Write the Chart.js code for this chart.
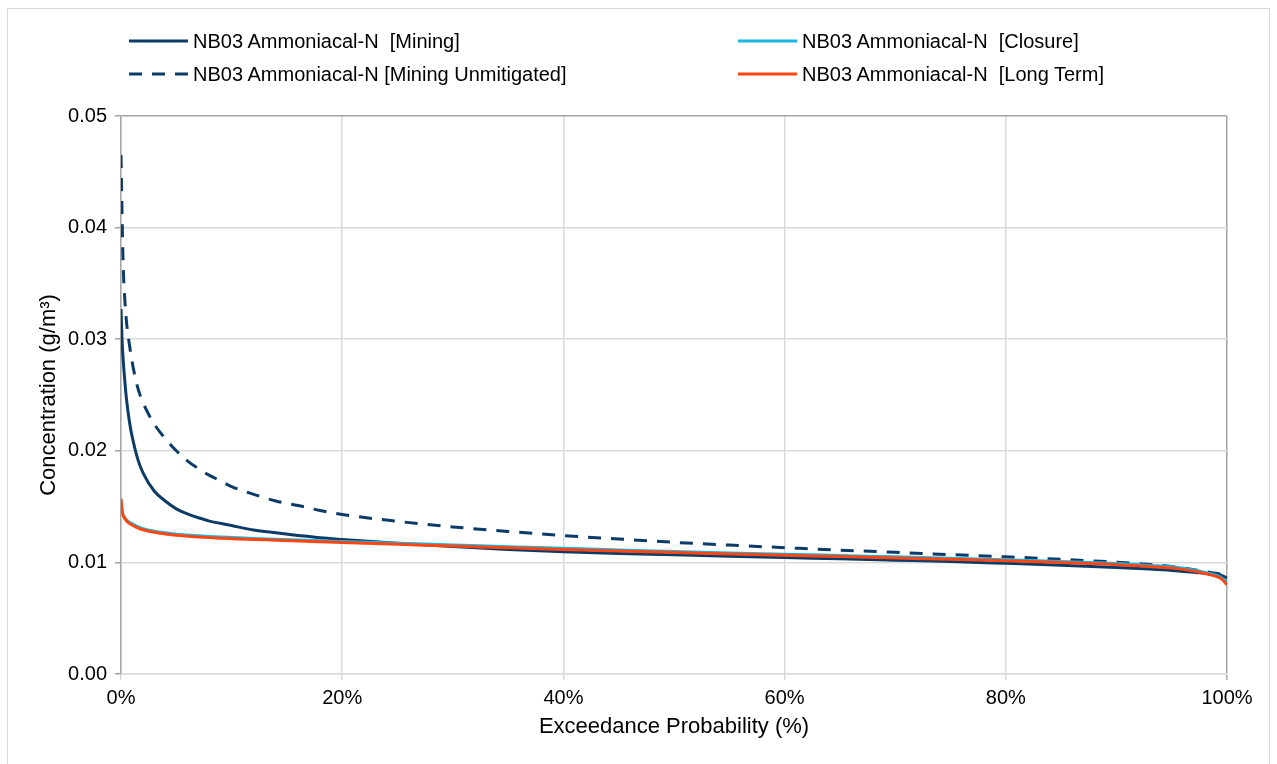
<!DOCTYPE html>
<html>
<head>
<meta charset="utf-8">
<script src="https://cdn.jsdelivr.net/npm/chart.js@4.4.1/dist/chart.umd.min.js"></script>
<style>
  html, body { margin: 0; padding: 0; background: #fff; }
  body { width: 1277px; height: 764px; position: relative; overflow: hidden; font-family: "Liberation Sans", Arial, sans-serif; }
  #frame { position: absolute; left: 7px; top: 8px; width: 1263px; height: 780px; border: 1px solid #d9d9d9; box-sizing: border-box; }
  #chartBox { position: absolute; left: 0; top: 0; }
  .leg { position: absolute; font-size: 20px; line-height: 24px; color: #000; white-space: pre; display: flex; align-items: center; }
  .leg svg { margin-right: 5px; }
</style>
</head>
<body>
<div id="frame"></div>
<canvas id="chartBox" width="1277" height="764"></canvas>
<div id="legend"></div>
<script>
// exceedance probability (%) shared by all series
const probPct = [0, 0.1, 0.2, 0.35, 0.5, 0.75, 1, 1.5, 2, 3, 4, 5, 6, 7, 8, 9, 10, 12, 14, 16, 18, 20,
  25, 30, 35, 40, 45, 50, 55, 60, 65, 70, 75, 80, 85, 90, 93, 95, 97, 98, 99, 99.5, 100];

// concentrations (g/m3)
const concMining = [0.0327, 0.0298, 0.0281, 0.0262, 0.0246, 0.0227, 0.0213, 0.0193, 0.0180, 0.0164, 0.0155,
  0.0148, 0.01435, 0.0140, 0.0137, 0.0135, 0.0133, 0.0129, 0.01265, 0.01242, 0.0122, 0.01205,
  0.01172, 0.01142, 0.01115, 0.01095, 0.0108, 0.01068, 0.01055, 0.01043, 0.01032, 0.0102, 0.01008, 0.00992,
  0.00975, 0.00955, 0.0094, 0.00928, 0.00912, 0.00903, 0.00893, 0.00883, 0.0086];

const concUnmitigated = [0.0465, 0.0410, 0.0365, 0.0335, 0.0315, 0.0296, 0.0280, 0.0257, 0.0243, 0.0224, 0.0211,
  0.0200, 0.0191, 0.0184, 0.0178, 0.0173, 0.0168, 0.0161, 0.0155, 0.0151, 0.01465, 0.0143,
  0.01368, 0.01318, 0.01277, 0.0124, 0.0121, 0.0118, 0.01155, 0.01132, 0.0111, 0.0109, 0.0107, 0.0105,
  0.01028, 0.01002, 0.00982, 0.00963, 0.00935, 0.00918, 0.00902, 0.0089, 0.0087];

const concClosure = [0.0155, 0.0146, 0.01425, 0.0140, 0.01382, 0.0136, 0.01345, 0.0132, 0.01302, 0.0128, 0.01265,
  0.01253, 0.01245, 0.01238, 0.01232, 0.01227, 0.01223, 0.01215, 0.01208, 0.01201, 0.01194, 0.01188,
  0.01172, 0.01157, 0.01141, 0.01126, 0.01112, 0.01098, 0.01085, 0.01073, 0.01062, 0.0105, 0.01038, 0.01024,
  0.01008, 0.0099, 0.00973, 0.0096, 0.00933, 0.0091, 0.00885, 0.00862, 0.0082];

const concLongTerm = [0.0157, 0.0146, 0.0142, 0.01392, 0.01372, 0.0135, 0.01335, 0.0131, 0.01292, 0.0127, 0.01255,
  0.01243, 0.01235, 0.01228, 0.01222, 0.01217, 0.01213, 0.01206, 0.01199, 0.01192, 0.01185, 0.01178,
  0.01162, 0.01147, 0.01131, 0.01116, 0.01102, 0.01088, 0.01075, 0.01063, 0.01052, 0.0104, 0.01028, 0.01014,
  0.00998, 0.0098, 0.00963, 0.0095, 0.00922, 0.009, 0.00875, 0.00852, 0.0080];

const xTicks = [0, 20, 40, 60, 80, 100];
const yTicks = [0, 0.01, 0.02, 0.03, 0.04, 0.05];

// colours
const COL_NAVY   = "#0b3b66";
const COL_CYAN   = "#19b6e3";
const COL_ORANGE = "#ff4512";
const GRID_LIGHT = "#d9d9d9";
const GRID_DARK  = "#a6a6a6";
const DASH = [13, 10];

const series = [
  { label: "NB03 Ammoniacal-N  [Mining]", data: concMining, color: COL_NAVY, dash: [], order: 4 },
  { label: "NB03 Ammoniacal-N [Mining Unmitigated]", data: concUnmitigated, color: COL_NAVY, dash: DASH, order: 3 },
  { label: "NB03 Ammoniacal-N  [Closure]", data: concClosure, color: COL_CYAN, dash: [], order: 2 },
  { label: "NB03 Ammoniacal-N  [Long Term]", data: concLongTerm, color: COL_ORANGE, dash: [], order: 1 }
];

// html legend, two columns
const legPos = [[129, 29], [129, 62], [738, 29], [738, 62]];
const legEl = document.getElementById("legend");
series.forEach((s, i) => {
  const d = document.createElement("div");
  d.className = "leg";
  d.style.left = legPos[i][0] + "px";
  d.style.top = legPos[i][1] + "px";
  const dashAttr = s.dash.length ? ` stroke-dasharray="${s.dash.join(" ")}"` : "";
  d.innerHTML = `<svg width="59" height="6"><line x1="0" y1="3" x2="59" y2="3" stroke="${s.color}" stroke-width="3"${dashAttr}/></svg>`;
  d.appendChild(document.createTextNode(s.label));
  legEl.appendChild(d);
});

Chart.defaults.font.family = '"Liberation Sans", Arial, sans-serif';
Chart.defaults.font.size = 20;
Chart.defaults.color = "#000";

const ctx = document.getElementById("chartBox").getContext("2d");
const chart = new Chart(ctx, {
  type: "line",
  data: {
    datasets: series.map(s => ({
      label: s.label,
      data: probPct.map((p, i) => ({ x: p, y: s.data[i] })),
      borderColor: s.color,
      backgroundColor: s.color,
      borderWidth: 3,
      borderDash: s.dash,
      pointRadius: 0,
      cubicInterpolationMode: "monotone",
      fill: false,
      order: s.order
    }))
  },
  options: {
    responsive: false,
    animation: false,
    layout: { padding: { top: 116, right: 50, bottom: 0, left: 0 } },
    plugins: { legend: { display: false }, tooltip: { enabled: false } },
    scales: {
      x: {
        type: "linear",
        min: 0,
        max: 100,
        afterFit(s) { s.height = 90; },
        afterBuildTicks(s) { s.ticks = xTicks.map(v => ({ value: v })); },
        ticks: { callback: v => v + "%", padding: 6, maxRotation: 0 },
        grid: {
          color: c => (c.tick && c.tick.value === 100 ? GRID_DARK : GRID_LIGHT),
          lineWidth: 1.5,
          tickLength: 6
        },
        border: { color: GRID_LIGHT, width: 1.5 },
        title: { display: true, text: "Exceedance Probability (%)", font: { size: 22 }, padding: { bottom: 24 } }
      },
      y: {
        min: 0,
        max: 0.05,
        afterFit(s) { s.width = 121; },
        afterBuildTicks(s) { s.ticks = yTicks.map(v => ({ value: v })); },
        ticks: { callback: v => v.toFixed(2), padding: 8 },
        grid: {
          color: c => (c.tick && c.tick.value === 0.05 ? GRID_DARK : GRID_LIGHT),
          tickColor: GRID_DARK,
          lineWidth: 1.5,
          tickLength: 6
        },
        border: { color: GRID_DARK, width: 1.5 },
        title: { display: true, text: "Concentration (g/m³)", font: { size: 22 }, padding: { top: 36 } }
      }
    }
  }
});
</script>
</body>
</html>
